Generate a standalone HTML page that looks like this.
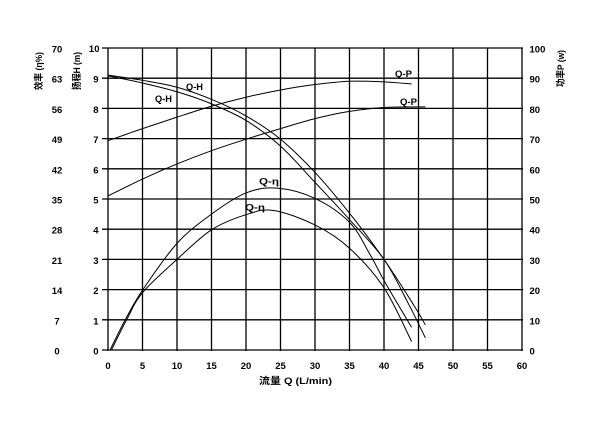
<!DOCTYPE html>
<html><head><meta charset="utf-8"><style>
html,body{margin:0;padding:0;background:#fff;}
svg{display:block;}
text{font-family:"Liberation Sans","Noto Sans CJK SC",sans-serif;font-weight:bold;fill:#000;}
.t{font-size:9.5px;}
.c{font-size:9.5px;}
</style></head><body>
<svg id="s" width="612" height="423" viewBox="0 0 612 423" xmlns="http://www.w3.org/2000/svg">
<rect width="612" height="423" fill="#fff"/>
<g stroke="#000" stroke-width="1.3" fill="none">
<line x1="108" y1="48" x2="108" y2="351"/>
<line x1="142.5" y1="48" x2="142.5" y2="351"/>
<line x1="177" y1="48" x2="177" y2="351"/>
<line x1="211.5" y1="48" x2="211.5" y2="351"/>
<line x1="246" y1="48" x2="246" y2="351"/>
<line x1="280.5" y1="48" x2="280.5" y2="351"/>
<line x1="315" y1="48" x2="315" y2="351"/>
<line x1="349.5" y1="48" x2="349.5" y2="351"/>
<line x1="384" y1="48" x2="384" y2="351"/>
<line x1="418.5" y1="48" x2="418.5" y2="351"/>
<line x1="453" y1="48" x2="453" y2="351"/>
<line x1="487.5" y1="48" x2="487.5" y2="351"/>
<line x1="522" y1="48" x2="522" y2="351"/>
<line x1="102" y1="350" x2="523" y2="350"/>
<line x1="102" y1="319.8" x2="523" y2="319.8"/>
<line x1="102" y1="289.6" x2="523" y2="289.6"/>
<line x1="102" y1="259.4" x2="523" y2="259.4"/>
<line x1="102" y1="229.2" x2="523" y2="229.2"/>
<line x1="102" y1="199" x2="523" y2="199"/>
<line x1="102" y1="168.8" x2="523" y2="168.8"/>
<line x1="102" y1="138.6" x2="523" y2="138.6"/>
<line x1="102" y1="108.4" x2="523" y2="108.4"/>
<line x1="102" y1="78.2" x2="523" y2="78.2"/>
<line x1="102" y1="48" x2="523" y2="48"/>
</g>
<g id="curves" stroke="#000" stroke-width="1" fill="none"></g>

<g class="t" text-anchor="middle">
<text x="57" y="354.5">0</text>
<text x="57" y="324.3">7</text>
<text x="57" y="294.1">14</text>
<text x="57" y="263.9">21</text>
<text x="57" y="233.7">28</text>
<text x="57" y="203.5">35</text>
<text x="57" y="173.3">42</text>
<text x="57" y="143.1">49</text>
<text x="57" y="112.9">56</text>
<text x="57" y="82.7">63</text>
<text x="57" y="52.5">70</text>
</g>
<g class="t" text-anchor="end">
<text x="98.5" y="354.5">0</text>
<text x="98.5" y="324.3">1</text>
<text x="98.5" y="294.1">2</text>
<text x="98.5" y="263.9">3</text>
<text x="98.5" y="233.7">4</text>
<text x="98.5" y="203.5">5</text>
<text x="98.5" y="173.3">6</text>
<text x="98.5" y="143.1">7</text>
<text x="98.5" y="112.9">8</text>
<text x="98.5" y="82.7">9</text>
<text x="99.5" y="52">10</text>
</g>
<g class="t" text-anchor="start">
<text x="529.5" y="354.5">0</text>
<text x="529.5" y="324.3">10</text>
<text x="529.5" y="294.1">20</text>
<text x="529.5" y="263.9">30</text>
<text x="529.5" y="233.7">40</text>
<text x="529.5" y="203.5">50</text>
<text x="529.5" y="173.3">60</text>
<text x="529.5" y="143.1">70</text>
<text x="529.5" y="112.9">80</text>
<text x="529.5" y="82.7">90</text>
<text x="529.5" y="52.5">100</text>
</g>
<g class="t" text-anchor="middle">
<text x="108" y="369">0</text>
<text x="142.5" y="369">5</text>
<text x="177" y="369">10</text>
<text x="211.5" y="369">15</text>
<text x="246" y="369">20</text>
<text x="280.5" y="369">25</text>
<text x="315" y="369">30</text>
<text x="349.5" y="369">35</text>
<text x="384" y="369">40</text>
<text x="418.5" y="369">45</text>
<text x="453" y="369">50</text>
<text x="487.5" y="369">55</text>
<text x="522" y="369">60</text>
</g>

<text font-size="9.5" transform="translate(42,90) rotate(-90)" textLength="38" lengthAdjust="spacingAndGlyphs">效率 (η%)</text>
<text font-size="9.5" transform="translate(80,90) rotate(-90)" textLength="38" lengthAdjust="spacingAndGlyphs">扬程H (m)</text>
<text font-size="9.5" transform="translate(564,87) rotate(-90)" textLength="37" lengthAdjust="spacingAndGlyphs">功率P (w)</text>
<text font-size="9.5" x="259" y="384" textLength="73" lengthAdjust="spacingAndGlyphs">流量 Q (L/min)</text>

<text class="c" x="186" y="90" textLength="17" lengthAdjust="spacingAndGlyphs">Q-H</text>
<text class="c" x="155" y="102" textLength="17" lengthAdjust="spacingAndGlyphs">Q-H</text>
<text class="c" x="395" y="77" textLength="17" lengthAdjust="spacingAndGlyphs">Q-P</text>
<text class="c" x="400" y="105" textLength="17" lengthAdjust="spacingAndGlyphs">Q-P</text>
<text class="c" x="259" y="184.5" textLength="20" lengthAdjust="spacingAndGlyphs">Q-η</text>
<text class="c" x="245" y="210.5" textLength="20" lengthAdjust="spacingAndGlyphs">Q-η</text>
</svg>
<script>
(function(){
var X=function(q){return 108+6.9*q;};
var Y=function(h){return 350-30.2*h;};
function p(pts,scale){
  var P=pts.map(function(a){return [X(a[0]),Y(a[1]*scale)];});
  var d="M"+P[0][0].toFixed(2)+","+P[0][1].toFixed(2);
  for(var i=0;i<P.length-1;i++){
    var p0=P[i-1]||P[i],p1=P[i],p2=P[i+1],p3=P[i+2]||P[i+1];
    var c1=[p1[0]+(p2[0]-p0[0])/6,p1[1]+(p2[1]-p0[1])/6];
    var c2=[p2[0]-(p3[0]-p1[0])/6,p2[1]-(p3[1]-p1[1])/6];
    d+=" C"+c1[0].toFixed(2)+","+c1[1].toFixed(2)+" "+c2[0].toFixed(2)+","+c2[1].toFixed(2)+" "+p2[0].toFixed(2)+","+p2[1].toFixed(2);
  }
  return d;
}
var curves=[
 [[[0,9.1],[5,8.93],[10,8.7],[15,8.3],[20,7.75],[25,6.98],[30,5.88],[35,4.53],[40,3.0],[44.3,1.49],[46,0.83]],1],
 [[[0,9.08],[5,8.84],[10,8.55],[15,8.15],[20,7.6],[25,6.75],[30,5.55],[35,4.32],[40,3.0],[43.5,1.55],[46,0.4]],1],
 [[[0.3,0],[2.5,1.0],[5,1.98],[10,3.53],[15,4.5],[20,5.2],[24.5,5.36],[30,5.02],[35,4.23],[38,3.15],[40,2.3],[42,1.52],[44,0.75]],1],
 [[[0.5,0],[2.7,1.0],[5,1.9],[10,3.0],[15,3.98],[20,4.48],[24,4.62],[30,4.14],[35,3.37],[40,2.06],[44,0.28]],1],
 [[[0,69.3],[5,73.3],[10,77.1],[15,80.7],[20,83.7],[25,86.1],[30,87.9],[35,89.0],[40,88.8],[44,88.1]],0.1],
 [[[0,51],[5,56.6],[10,61.6],[15,66],[20,69.8],[25,73.3],[30,76.6],[35,79.0],[40,80.3],[46,80.5]],0.1]
];
var g=document.getElementById("curves");
curves.forEach(function(c){
  var e=document.createElementNS("http://www.w3.org/2000/svg","path");
  e.setAttribute("d",p(c[0],c[1]));
  g.appendChild(e);
});
})();
</script>
</body></html>
